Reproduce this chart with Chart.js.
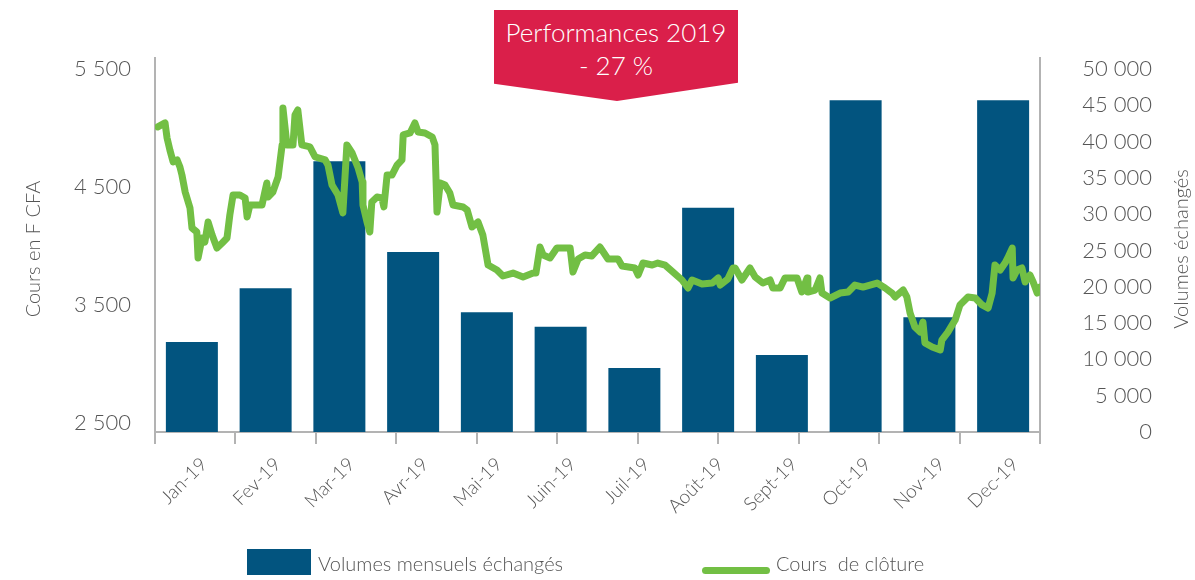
<!DOCTYPE html>
<html>
<head>
<meta charset="utf-8">
<script src="https://cdn.jsdelivr.net/npm/chart.js@4.4.1/dist/chart.umd.min.js"></script>
<style>
  body { margin: 0; background: #fff; }
  #wrap { position: relative; width: 1195px; height: 580px; font-family: Lato, sans-serif; font-weight: 300; color: #555; }
  #mycanvas { position: absolute; left: 0; top: 0; }
  #banner {
    position: absolute; left: 494px; top: 10px; width: 244px; height: 91px;
    background: #da1f4a; color: #fff; text-align: center;
    clip-path: polygon(0 0, 100% 0, 100% 80%, 50.4% 100%, 0 81%);
    font-size: 26px; line-height: 33px; padding-top: 6px; box-sizing: border-box;
  }
  .leg { position: absolute; top: 550px; font-size: 20px; line-height: 26px; white-space: pre; }
  .leg .box { position: absolute; left: -71px; top: -1px; width: 64px; height: 26px; background: #02547f; }
  .leg .ligne { position: absolute; left: -74px; top: 17px; width: 68px; height: 7px; background: #72bf44; border-radius: 4px; }
</style>
</head>
<body>
<div id="wrap">
  <canvas id="mycanvas" width="1195" height="580"></canvas>
  <div id="banner">Performances 2019<br>- 27 %</div>
  <div class="leg" style="left:318px"><span class="box"></span>Volumes mensuels échangés</div>
  <div class="leg" style="left:776px"><span class="ligne"></span>Cours  de clôture</div>
</div>
<script>
var mois = ['Jan-19', 'Fev-19', 'Mar-19', 'Avr-19', 'Mai-19', 'Juin-19', 'Juil-19', 'Août-19', 'Sept-19', 'Oct-19', 'Nov-19', 'Dec-19'];
var volumes = [12400, 19800, 37300, 24800, 16500, 14500, 8800, 30900, 10600, 45700, 15800, 45700];

// position le long de l'axe (0 = debut janvier, 220 = fin decembre) et cours de cloture
var coursJour = [
  0.7, 2.5, 3.0, 3.7, 4.5, 5.5, 6.2, 6.7, 7.5, 8.7,
  9.2, 10.4, 10.7, 11.7, 12.4, 13.2, 14.2, 15.4, 16.7, 17.9,
  18.6, 19.4, 21.1, 22.4, 22.9, 23.6, 26.6, 27.3, 27.8, 28.1,
  29.3, 30.6, 31.6, 31.8, 32.8, 34.3, 34.8, 35.5, 36.5, 38.5,
  39.8, 42.3, 43.0, 44.0, 45.5, 46.7, 47.7, 49.0, 50.5, 51.5,
  51.7, 52.7, 53.4, 53.9, 55.2, 56.4, 56.9, 57.7, 58.9, 60.2,
  61.4, 61.7, 63.4, 64.6, 65.4, 67.1, 68.9, 69.6, 70.1, 70.9,
  72.1, 73.3, 74.1, 76.6, 77.6, 78.8, 80.3, 81.5, 82.8, 85.0,
  86.5, 89.0, 91.5, 94.0, 94.7, 95.7, 96.5, 98.2, 99.9, 102.4,
  103.2, 103.9, 105.2, 106.9, 108.6, 110.6, 112.6, 115.1, 116.1, 119.3,
  120.1, 121.3, 123.6, 125.0, 126.8, 128.5, 131.0, 132.5, 133.5, 136.0,
  138.5, 140.0, 140.5, 142.4, 143.7, 144.2, 145.9, 147.9, 149.2, 151.1,
  152.9, 153.6, 155.4, 156.6, 159.6, 160.8, 162.1, 162.3, 164.1, 165.3,
  165.8, 167.8, 170.3, 172.3, 174.0, 176.0, 179.5, 181.5, 183.2, 184.0,
  186.0, 186.9, 187.7, 188.9, 190.2, 190.9, 191.4, 193.2, 195.2, 195.6,
  197.1, 198.9, 200.1, 202.1, 203.9, 205.6, 207.1, 208.1, 208.8, 210.1,
  211.3, 212.1, 213.1, 213.3, 214.3, 215.5, 216.3, 217.5, 218.3, 219.3,
  220.0
];
var coursCloture = [
  5008, 5042, 4914, 4812, 4711, 4728, 4668, 4600, 4456, 4320,
  4150, 4116, 3896, 4065, 4031, 4201, 4091, 3980, 4023, 4065,
  4261, 4430, 4430, 4405, 4244, 4345, 4345, 4456, 4532, 4413,
  4456, 4583, 4855, 5169, 4855, 4855, 5110, 5152, 4855, 4838,
  4753, 4728, 4685, 4515, 4430, 4278, 4855, 4787, 4660, 4541,
  4345, 4201, 4116, 4371, 4413, 4405, 4329, 4600, 4600, 4685,
  4728, 4940, 4957, 5042, 4965, 4957, 4923, 4855, 4286, 4532,
  4515, 4447, 4345, 4329, 4303, 4159, 4201, 4091, 3836, 3794,
  3743, 3768, 3734, 3768, 3768, 3989, 3921, 3896, 3980, 3980,
  3980, 3777, 3887, 3921, 3913, 3989, 3887, 3887, 3828, 3811,
  3751, 3853, 3836, 3853, 3836, 3785, 3709, 3641, 3709, 3675,
  3683, 3726, 3666, 3717, 3811, 3811, 3709, 3811, 3734, 3683,
  3709, 3641, 3641, 3726, 3726, 3607, 3726, 3607, 3624, 3726,
  3598, 3556, 3598, 3607, 3666, 3649, 3683, 3641, 3598, 3565,
  3624, 3565, 3429, 3310, 3267, 3352, 3174, 3140, 3115, 3199,
  3267, 3369, 3497, 3565, 3556, 3497, 3471, 3598, 3836, 3794,
  3853, 3904, 3980, 3726, 3794, 3811, 3692, 3751, 3692, 3598,
  3649
];

var coursTicks = [2500, 3500, 4500, 5500];
var volumeTicks = [0, 5000, 10000, 15000, 20000, 25000, 30000, 35000, 40000, 45000, 50000];

var gris = '#555555';
var axe = '#b3b3b3';
var police = { family: 'Lato', weight: '300', size: 22 };

function milliers(v) {
  return String(v).replace(/\B(?=(\d{3})+(?!\d))/g, ' ');
}

var coursData = [];
for (var i in coursJour) {
  coursData.push({ x: coursJour[i], y: coursCloture[i] });
}

var titresAxes = {
  id: 'titresAxes',
  afterDraw: function (chart) {
    var ctx = chart.ctx;
    var milieu = (chart.chartArea.top + chart.chartArea.bottom) / 2 + 4;
    ctx.save();
    ctx.fillStyle = gris;
    ctx.font = '300 20px Lato';
    ctx.textAlign = 'center';
    ctx.textBaseline = 'middle';
    ctx.translate(34, milieu);
    ctx.rotate(-Math.PI / 2);
    ctx.fillText('Cours en F CFA', 0, 0);
    ctx.restore();
    ctx.save();
    ctx.fillStyle = gris;
    ctx.font = '300 20px Lato';
    ctx.textAlign = 'center';
    ctx.textBaseline = 'middle';
    ctx.translate(1182, milieu);
    ctx.rotate(-Math.PI / 2);
    ctx.fillText('Volumes échangés', 0, 0);
    ctx.restore();
  }
};

var ctx = document.getElementById('mycanvas');

var chart = new Chart(ctx, {
  type: 'bar',
  data: {
    labels: mois,
    datasets: [{
      type: 'line',
      label: 'Cours  de clôture',
      data: coursData,
      xAxisID: 'xCours',
      yAxisID: 'yCours',
      borderColor: '#72bf44',
      borderWidth: 7,
      pointRadius: 0,
      tension: 0,
      borderJoinStyle: 'round',
      borderCapStyle: 'round',
      order: 0
    }, {
      type: 'bar',
      label: 'Volumes mensuels échangés',
      data: volumes,
      xAxisID: 'x',
      yAxisID: 'yVol',
      backgroundColor: '#02547f',
      grouped: false,
      barPercentage: 0.705,
      categoryPercentage: 1,
      order: 1
    }]
  },
  options: {
    responsive: false,
    animation: false,
    layout: { padding: { top: 58, left: 0, right: 43, bottom: 0 } },
    plugins: {
      legend: { display: false },
      tooltip: { enabled: false }
    },
    scales: {
      x: {
        type: 'category',
        position: 'bottom',
        weight: 1,
        offset: true,
        grid: { display: false, drawTicks: false },
        border: { display: false },
        ticks: { minRotation: 45, maxRotation: 45, padding: 9, labelOffset: 12, color: gris, font: { family: 'Lato', weight: '300', size: 19 } },
        afterFit: function (s) { s.height = 136; }
      },
      xCours: {
        type: 'linear',
        position: 'bottom',
        weight: 0,
        offset: false,
        min: 0,
        max: 220,
        ticks: { stepSize: 20, display: false },
        grid: { offset: false, drawOnChartArea: false, tickLength: 12, color: axe, lineWidth: 2 },
        border: { color: axe, width: 2 },
        afterFit: function (s) { s.height = 12; }
      },
      yCours: {
        type: 'linear',
        position: 'left',
        min: 2419,
        max: 5593,
        afterBuildTicks: function (s) { s.ticks = coursTicks.map(function (v) { return { value: v }; }); },
        grid: { display: false, drawTicks: false },
        border: { color: axe, width: 2 },
        ticks: { padding: 24, color: gris, font: police, callback: milliers },
        afterFit: function (s) { s.width = 155; }
      },
      yVol: {
        type: 'linear',
        position: 'right',
        min: 0,
        max: 51515,
        afterBuildTicks: function (s) { s.ticks = volumeTicks.map(function (v) { return { value: v }; }); },
        grid: { display: false, drawTicks: false },
        border: { color: axe, width: 2 },
        ticks: { padding: 20, crossAlign: 'far', color: gris, font: police, callback: milliers },
        afterFit: function (s) { s.width = 112; }
      }
    }
  },
  plugins: [titresAxes]
});
</script>
</body>
</html>
